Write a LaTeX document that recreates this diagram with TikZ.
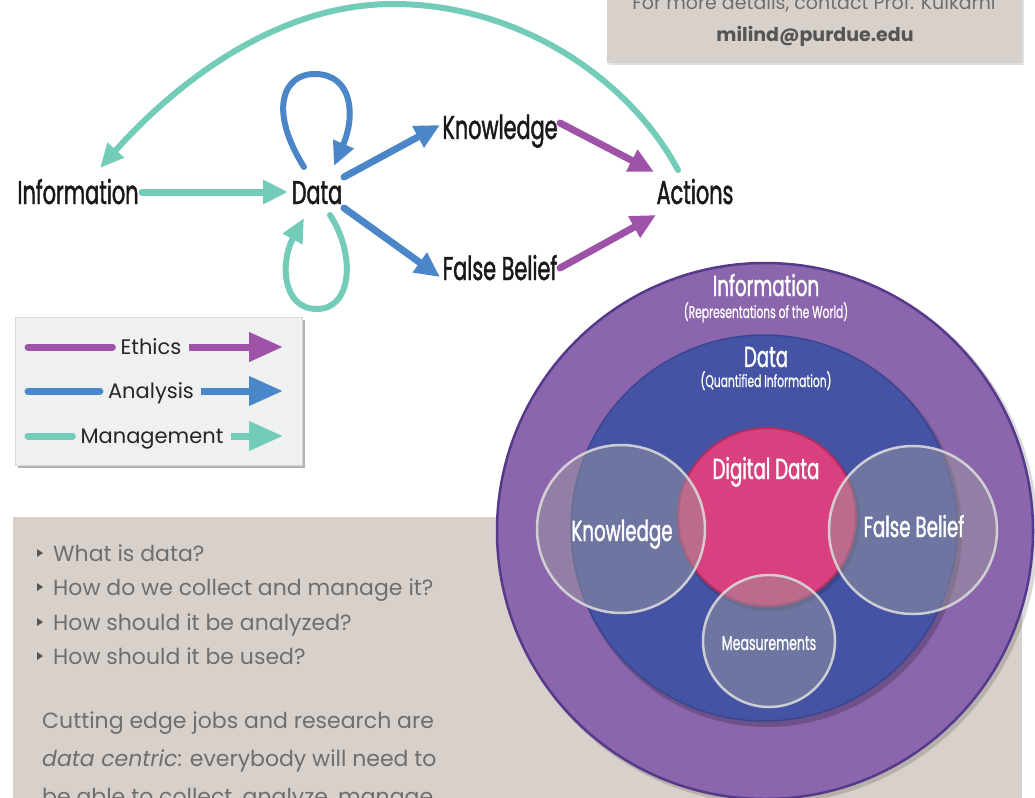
\documentclass[tikz,border=0pt]{standalone}
\usepackage{fontspec}
\setmainfont{Poppins}
\newfontfamily\cond[FakeStretch=0.63, FakeBold=1.3]{Poppins}
\newfontfamily\condl[FakeStretch=0.63, FakeBold=0.8]{Poppins}
\usetikzlibrary{arrows.meta,calc}
\definecolor{eth}{HTML}{9E52A8}
\definecolor{ana}{HTML}{4A86C8}
\definecolor{mgt}{HTML}{72CCB8}
\definecolor{boxgray}{HTML}{D8D1CB}
\definecolor{legbg}{HTML}{EFF1F1}
\definecolor{outerP}{HTML}{8B66AD}
\definecolor{outerB}{HTML}{553A8C}
\definecolor{dataB}{HTML}{4453A3}
\definecolor{dataBd}{HTML}{3A4690}
\definecolor{pinkD}{HTML}{D9407F}
\definecolor{pinkDd}{HTML}{B02F62}
\definecolor{ovl}{HTML}{9D9D9D}
\definecolor{ringc}{HTML}{D9D9D9}
\definecolor{txtgray}{HTML}{6E6E6E}
\definecolor{mailgray}{HTML}{555555}
\definecolor{bulgray}{HTML}{555555}
\begin{document}
\begin{tikzpicture}[x=1pt,y=-1pt,
  arr/.style={line width=7pt, line cap=round, -{Triangle[length=25pt,width=23pt]}},
  ethA/.style={arr, draw=eth},
  anaA/.style={arr, draw=ana},
  mgtA/.style={arr, draw=mgt},
  loopA/.style={line width=6pt, line cap=round, -{Triangle[length=24pt,width=21pt]}},
  lbl/.style={font=\cond\fontsize{33}{33}\selectfont, text=black!90, inner sep=0pt, anchor=base},
  clbl/.style={font=\cond\fontsize{29}{29}\selectfont, text=white, inner sep=0pt, anchor=base},
  csub/.style={font=\condl\fontsize{17}{17}\selectfont, text=white, inner sep=0pt, anchor=base},
  leg/.style={font=\fontsize{21}{21}\selectfont, text=black!85, inner sep=0pt, anchor=base},
  legline/.style={line width=7pt, line cap=round},
  legarr/.style={line width=7pt, -{Triangle[length=34pt,width=28pt]}},
  body/.style={font=\fontsize{22}{22}\selectfont, text=txtgray, inner sep=0pt, anchor=base west},
  ring/.style={fill=ovl, fill opacity=0.47, draw=ringc, draw opacity=0.9, line width=2.5pt}
]
\useasboundingbox (0,0) rectangle (1035,797);
\clip (0,0) rectangle (1035,797);
\fill[white] (0,0) rectangle (1035,797);

% gray boxes
\fill[black!12] (609,-5) rectangle (1024,65);
\fill[boxgray] (607,-5) rectangle (1022,63);
\fill[boxgray] (13,517) rectangle (1022,800);

\node[font=\fontsize{19}{19}\selectfont, text=txtgray, inner sep=0pt, anchor=base] (contact) at (814,10) {For more details, contact Prof. Kulkarni};
\node[font=\bfseries\fontsize{19}{19}\selectfont, text=mailgray, inner sep=0pt, anchor=base] (mail) at (815,42) {milind@purdue.edu};

% bullets
\foreach \yy in {553,587,622,656}{
  \fill[bulgray] (37,\yy-4) -- (43,\yy) -- (37,\yy+4) -- cycle;
}
\node[body] (q1) at (53,561) {What is data?};
\node[body] (q2) at (53,595) {How do we collect and manage it?};
\node[body] (q3) at (53,630) {How should it be analyzed?};
\node[body] (q4) at (53,664) {How should it be used?};
\node[body] (p1) at (42,728) {Cutting edge jobs and research are};
\node[body] (p2) at (42,766) {\textit{data centric}: everybody will need to};
\node[body] (p3) at (42,804) {be able to collect, analyze, manage};

% nested circles
\fill[black, opacity=0.15] (768,534) circle (270);
\filldraw[fill=outerP, draw=outerB, line width=2.5pt] (765,531) circle (268);
\fill[black, opacity=0.2] (767,532) circle (195);
\filldraw[fill=dataB, draw=dataBd, line width=1.5pt] (764,528) circle (193);
\fill[black, opacity=0.15] (769,520) circle (91);
\filldraw[fill=pinkD, draw=pinkDd, line width=2pt] (767,517) circle (89);
\filldraw[ring] (621,529) circle (84);
\filldraw[ring] (913,530) circle (84);
\filldraw[ring] (769,641) circle (66);

\node[clbl] (cinfo) at (766,296) {Information};
\node[csub] (cinfos) at (766,318) {(Representations of the World)};
\node[clbl] (cdata) at (766,367) {Data};
\node[csub] (cdatas) at (766,387) {(Quantified Information)};
\node[clbl] (cdig) at (766,479) {Digital Data};
\node[clbl] (cknow) at (622,541) {Knowledge};
\node[clbl] (cfb) at (914,537) {False Belief};
\node[font=\condl\fontsize{20}{20}\selectfont, text=white, inner sep=0pt, anchor=base] (cmeas) at (769,650) {Measurements};

% legend
\fill[black!30] (18,320) rectangle (305,468);
\filldraw[fill=legbg, draw=black!15, line width=0.5pt] (15,317) rectangle (302,465);
\node[leg] (le) at (151,354) {Ethics};
\node[leg] (la) at (151,398) {Analysis};
\node[leg] (lm) at (152,443) {Management};
\coordinate (le0) at (28,347); \coordinate (le1) at (283,347);
\coordinate (la0) at (28,391); \coordinate (la1) at (283,391);
\coordinate (lm0) at (28,436); \coordinate (lm1) at (283,436);
\draw[legline, eth] (le0) -- ([xshift=-8pt]le.west |- le0);
\draw[legarr, eth] ([xshift=7pt]le.east |- le1) -- (le1);
\draw[legline, ana] (la0) -- ([xshift=-8pt]la.west |- la0);
\draw[legarr, ana] ([xshift=7pt]la.east |- la1) -- (la1);
\draw[legline, mgt] (lm0) -- ([xshift=-8pt]lm.west |- lm0);
\draw[legarr, mgt] ([xshift=7pt]lm.east |- lm1) -- (lm1);

% graph
\node[lbl] (info) at (78,204) {Information};
\node[lbl] (data) at (317,204) {Data};
\node[lbl] (know) at (500,139) {Knowledge};
\node[lbl] (fb) at (500,280) {False Belief};
\node[lbl] (act) at (695,204) {Actions};

\draw[mgtA] ($(info.base)+(64,-12)$) -- ($(data.base)+(-29,-12)$);
\draw[anaA] ($(data.base)+(27,-27)$) -- ($(know.base)+(-60,-14)$);
\draw[anaA] ($(data.base)+(27,4)$) -- ($(fb.base)+(-60,-3)$);
\draw[ethA] ($(know.base)+(60,-16)$) -- ($(act.base)+(-41,-32)$);
\draw[ethA] ($(fb.base)+(60,-12)$) -- ($(act.base)+(-39,11)$);
\draw[loopA, draw=ana] ($(data.base)+(-13,-37)$) .. controls (268,110) and (283,73) .. (316,74)
   .. controls (352,75) and (356,115) .. ($(data.base)+(17,-38)$);
\draw[loopA, draw=mgt] ($(data.base)+(13,11)$) .. controls (356,255) and (352,309) .. (317,309)
   .. controls (282,309) and (280,262) .. ($(data.base)+(-13,14)$);
\draw[loopA, draw=mgt] ($(act.base)+(-17,-34)$) .. controls (630,80) and (520,4) .. (393,4)
   .. controls (268,4) and (165,95) .. ($(info.base)+(22,-36)$);
\end{tikzpicture}
\end{document}
